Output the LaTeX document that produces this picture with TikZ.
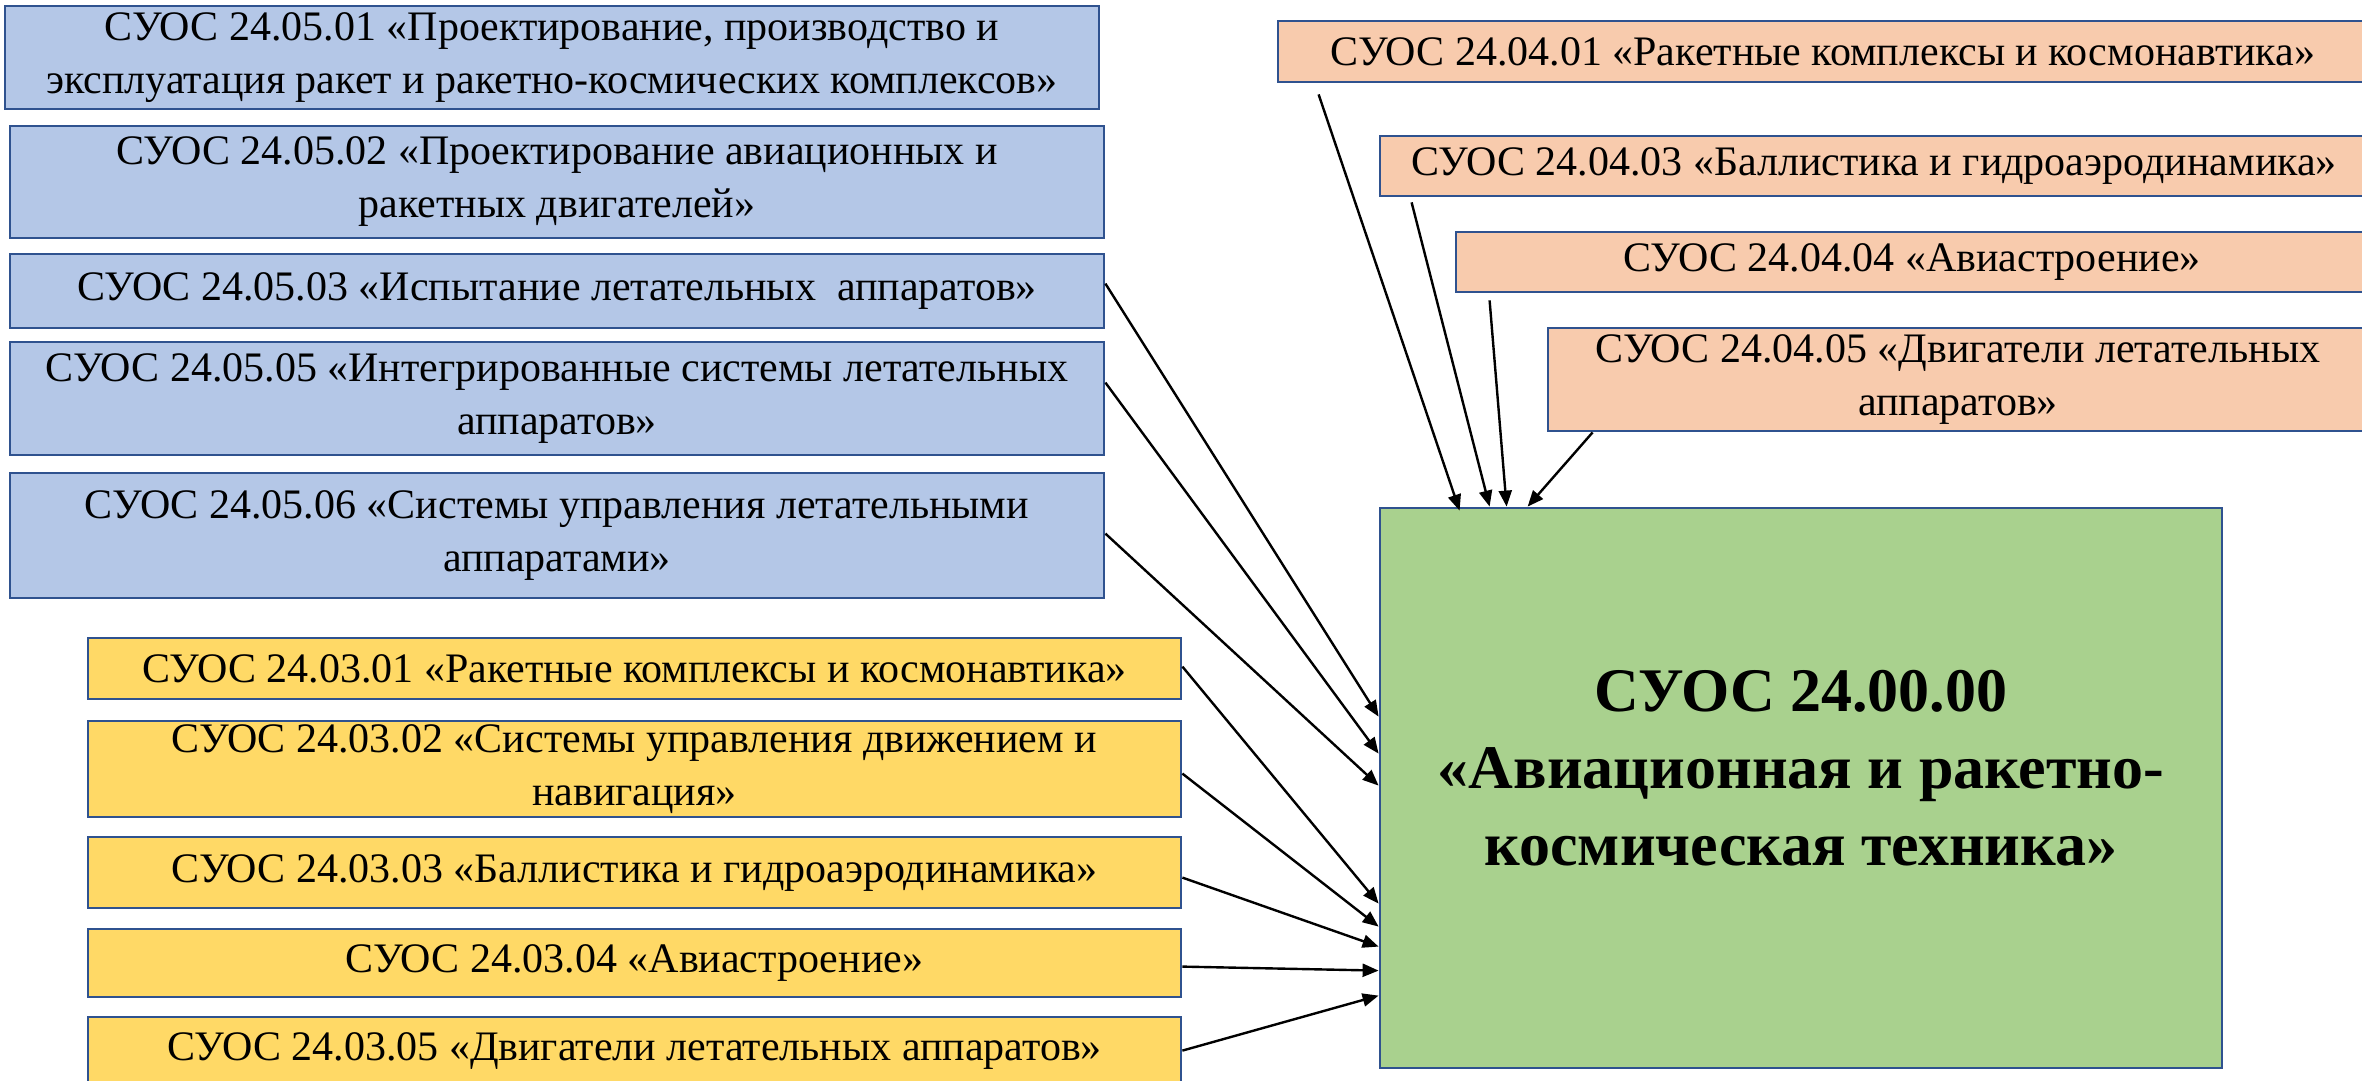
\documentclass[tikz,border=0pt]{standalone}
\usepackage{fontspec}
\setmainfont{Liberation Serif}
\usetikzlibrary{arrows.meta}
\definecolor{bord}{HTML}{2F528F}
\definecolor{bluef}{HTML}{B4C7E7}
\definecolor{orangef}{HTML}{F8CBAD}
\definecolor{yellowf}{HTML}{FFD966}
\definecolor{greenf}{HTML}{A9D18E}
\begin{document}
\begin{tikzpicture}[x=0.5pt,y=-0.5pt,
  box/.style={draw=bord, line width=1.4pt, rectangle, inner sep=0pt, align=center,
    font=\fontsize{21}{26.5}\selectfont},
  bbox/.style={box, fill=bluef},
  obox/.style={box, fill=orangef},
  ybox/.style={box, fill=yellowf},
  gbox/.style={box, fill=greenf},
  gtext/.style={align=center, inner sep=0pt, font=\bfseries\fontsize{31}{38.5}\selectfont},
  arr/.style={-{Triangle[length=8pt,width=6.5pt]}, line width=1.2pt, black}
]
\useasboundingbox (0,0) rectangle (2362,1081);
\clip (0,0) rectangle (2362,1081);

% blue boxes
\node[bbox, minimum width=547pt, minimum height=51.5pt] (B1) at (552,57.5)
  {СУОС 24.05.01 «Проектирование, производство и\\эксплуатация ракет и ракетно-космических комплексов»};
\node[bbox, minimum width=547pt, minimum height=56pt] (B2) at (557,182)
  {СУОС 24.05.02 «Проектирование авиационных и\\ракетных двигателей»};
\node[bbox, minimum width=547pt, minimum height=37pt] (B3) at (557,291)
  {СУОС 24.05.03 «Испытание летательных\ \ аппаратов»};
\node[bbox, minimum width=547pt, minimum height=56.5pt] (B4) at (557,398.5)
  {СУОС 24.05.05 «Интегрированные системы летательных\\аппаратов»};
\node[bbox, minimum width=547pt, minimum height=62.5pt] (B5) at (557,535.5)
  {СУОС 24.05.06 «Системы управления летательными\\аппаратами»};

% orange boxes
\node[obox, minimum width=545pt, minimum height=30.5pt] (O1) at (1823,51.5)
  {СУОС 24.04.01 «Ракетные комплексы и космонавтика»};
\node[obox, minimum width=494pt, minimum height=30pt] (O2) at (1874,166)
  {СУОС 24.04.03 «Баллистика и гидроаэродинамика»};
\node[obox, minimum width=456pt, minimum height=30pt] (O3) at (1912,262)
  {СУОС 24.04.04 «Авиастроение»};
\node[obox, minimum width=410pt, minimum height=51.5pt] (O4) at (1958,379.5)
  {СУОС 24.04.05 «Двигатели летательных\\аппаратов»};

% yellow boxes
\node[ybox, minimum width=546.5pt, minimum height=30.5pt] (Y1) at (634.5,668.5)
  {СУОС 24.03.01 «Ракетные комплексы и космонавтика»};
\node[ybox, minimum width=546.5pt, minimum height=48pt] (Y2) at (634.5,769)
  {СУОС 24.03.02 «Системы управления движением и\\навигация»};
\node[ybox, minimum width=546.5pt, minimum height=35.5pt] (Y3) at (634.5,872.5)
  {СУОС 24.03.03 «Баллистика и гидроаэродинамика»};
\node[ybox, minimum width=546.5pt, minimum height=34pt] (Y4) at (634.5,963)
  {СУОС 24.03.04 «Авиастроение»};
\node[ybox, minimum width=546.5pt, minimum height=34pt] (Y5) at (634.5,1051)
  {СУОС 24.03.05 «Двигатели летательных аппаратов»};

% green box
\node[gbox, minimum width=421pt, minimum height=280pt] (G) at (1801,788) {};
\node[gtext] (Gt) at (1801,768) {СУОС 24.00.00\\«Авиационная и ракетно-\\космическая техника»};

% arrows from the top
\draw[arr] ([xshift=21pt,yshift=-5.5pt]O1.south west) -- ([xshift=40.5pt,yshift=-2pt]G.north west);
\draw[arr] ([xshift=16.5pt,yshift=-2.5pt]O2.south west) -- ([xshift=55.5pt]G.north west);
\draw[arr] ([xshift=17.5pt,yshift=-3.5pt]O3.south west) -- ([xshift=64pt]G.north west);
\draw[arr] ([xshift=23pt]O4.south west) -- ([xshift=74.5pt]G.north west);

% arrows from the left
\draw[arr] ([yshift=-15.5pt]B3.north east) -- ([yshift=-105pt]G.north west);
\draw[arr] ([yshift=-21pt]B4.north east) -- ([yshift=-123.5pt]G.north west);
\draw[arr] ([yshift=-31pt]B5.north east) -- ([yshift=-139.5pt]G.north west);
\draw[arr] ([yshift=-15pt]Y1.north east) -- ([yshift=-198.5pt]G.north west);
\draw[arr] ([yshift=-27pt]Y2.north east) -- ([yshift=-210pt]G.north west);
\draw[arr] ([yshift=-21pt]Y3.north east) -- ([yshift=-220pt]G.north west);
\draw[arr] ([yshift=-19.5pt]Y4.north east) -- ([yshift=-232pt]G.north west);
\draw[arr] ([yshift=-17.5pt]Y5.north east) -- ([yshift=-244.5pt]G.north west);
\end{tikzpicture}
\end{document}
